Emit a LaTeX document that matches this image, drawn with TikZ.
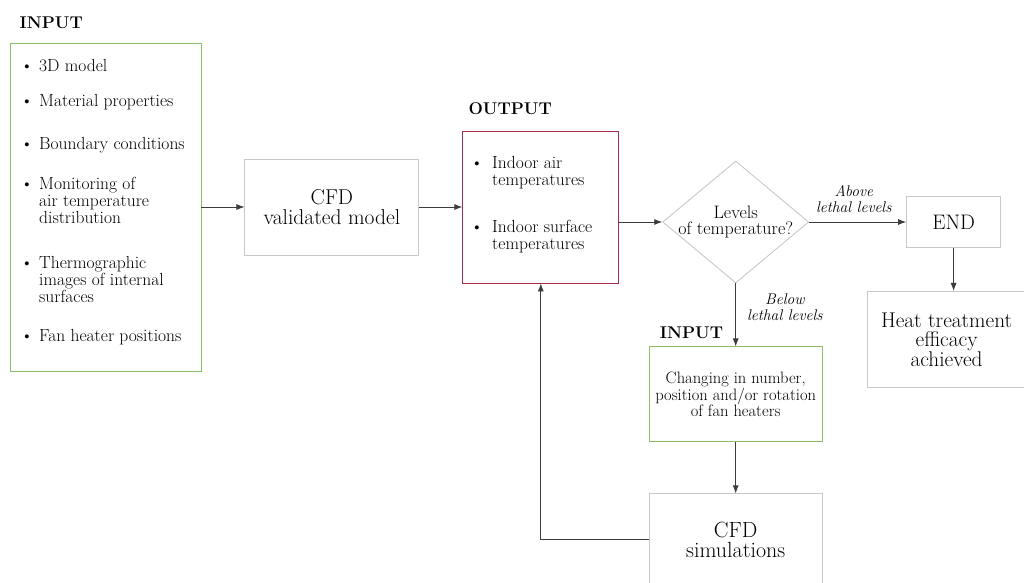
\documentclass[tikz,border=0pt]{standalone}
\usepackage{amsmath}
\usetikzlibrary{positioning,shapes.geometric,arrows.meta}
\definecolor{inGreen}{RGB}{140,190,100}
\definecolor{outRed}{RGB}{165,45,75}
\definecolor{boxGray}{RGB}{200,200,200}
\definecolor{lineGray}{RGB}{60,60,60}

\begin{document}
\begin{tikzpicture}[
  x=1pt, y=1pt,
  flowBox/.style={draw=boxGray, line width=0.9pt, inner sep=0pt, align=center},
  flowHead/.style={font=\fontsize{17}{20}\selectfont\bfseries, inner sep=0pt},
  listText/.style={anchor=base west, align=left, inner sep=0pt, font=\fontsize{17.5}{17}\selectfont},
  listDot/.style={anchor=base, inner sep=0pt, font=\fontsize{17.5}{17}\selectfont},
  branchText/.style={font=\fontsize{15.5}{16}\selectfont\itshape, align=center, inner sep=0pt},
  flowLine/.style={draw=lineGray, line width=0.8pt, ->},
  every path/.style={>={Latex[length=8pt,width=6pt]}},
  ]
  \useasboundingbox (0,0) rectangle (1024,-582);
  \node[flowBox, draw=inGreen, minimum width=191pt, minimum height=328pt]
    (flowInput) at (105.5,-207) {};
  \node[flowBox, right=43pt of flowInput, minimum width=174pt, minimum height=96pt,
    font=\fontsize{21.5}{20}\selectfont] (flowModel) {CFD\\validated model};
  \node[flowBox, draw=outRed, right=43pt of flowModel, minimum width=156pt,
    minimum height=152pt] (flowOutput) {};
  \node[flowBox, diamond, inner sep=-4pt, aspect=1.2, right=43pt of flowOutput, yshift=-15pt,
    minimum width=146pt, minimum height=122pt, font=\fontsize{18}{16.5}\selectfont]
    (flowLevels) {Levels\\of temperature?};
  \node[flowBox, right=97pt of flowLevels, minimum width=94pt, minimum height=51pt,
    font=\fontsize{21}{20}\selectfont] (flowEnd) {END};
  \node[flowBox, below=43pt of flowEnd, xshift=-7pt, minimum width=158pt, minimum height=96pt,
    font=\fontsize{21.3}{19.5}\selectfont] (flowHeat) {Heat treatment\\efficacy\\achieved};
  \node[flowBox, draw=inGreen, below=63pt of flowLevels, minimum width=173pt, minimum height=95pt,
    font=\fontsize{16.5}{15.5}\selectfont] (flowChange) {Changing in number,\\position and/or rotation\\of fan heaters};
  \node[flowBox, below=51pt of flowChange, minimum width=173pt, minimum height=92pt,
    font=\fontsize{22}{20}\selectfont] (flowSim) {CFD\\simulations};

  % headings
  \node[flowHead, above right=14pt and 10pt of flowInput.north west] (headInput) {INPUT};
  \node[flowHead, above right=16pt and 6pt of flowOutput.north west] (headOutput) {OUTPUT};
  \node[flowHead, above right=8pt and 11pt of flowChange.north west] (headChange) {INPUT};

  % bullet lists (first baseline / last baseline / text)
  \foreach \b/\y/\txt in {71/71/3D model, 106/106/Material properties, 149/149/Boundary conditions,
    189/223/{Monitoring of\\air temperature\\distribution},
    268/302/{Thermographic\\images of internal\\surfaces}, 341/341/Fan heater positions} {
    \node[listDot] (inDot\b) at (27,-\b) {\textbullet};
    \node[listText] (inItem\b) at (39,-\y) {\txt};
  }
  \foreach \b/\y/\txt in {168/185/{Indoor air\\temperatures}, 232/249/{Indoor surface\\temperatures}} {
    \node[listDot] (outDot\b) at (477,-\b) {\textbullet};
    \node[listText] (outItem\b) at (492,-\y) {\txt};
  }

  \draw[flowLine] (flowInput) -- (flowModel);
  \draw[flowLine] (flowModel) -- (flowOutput);
  \draw[flowLine] (flowOutput.east |- flowLevels.west) -- (flowLevels.west);
  \draw[flowLine] (flowLevels.east) --
    node[branchText, above=9pt, pos=0.46] (lblAbove) {Above\\lethal levels}
    (flowLevels.east -| flowEnd.west);
  \draw[flowLine] (flowEnd.south) -- (flowEnd.south |- flowHeat.north);
  \draw[flowLine] (flowLevels.south) --
    node[branchText, right=11pt, pos=0.38] (lblBelow) {Below\\lethal levels}
    (flowLevels.south |- flowChange.north);
  \draw[flowLine] (flowChange) -- (flowSim);
  \draw[flowLine] (flowSim.west) -| (flowOutput.south);
\end{tikzpicture}
\end{document}
